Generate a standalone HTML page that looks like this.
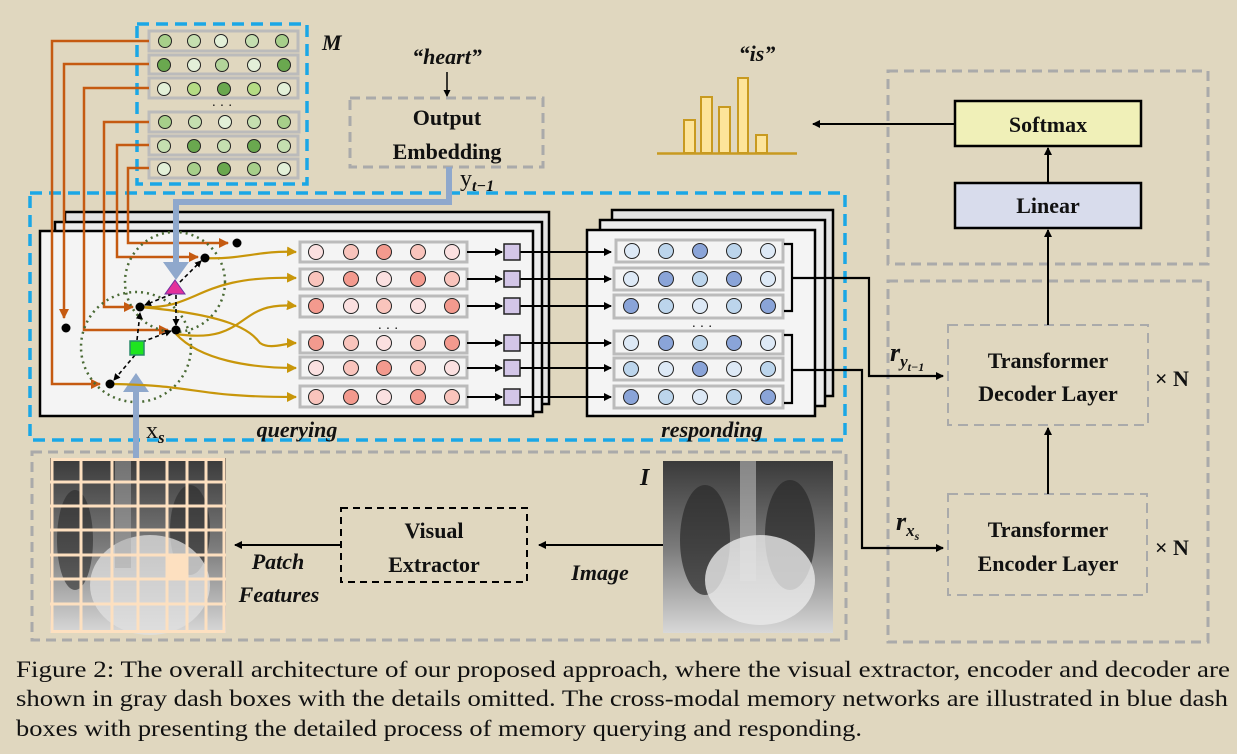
<!DOCTYPE html>
<html><head><meta charset="utf-8"><style>
html,body{margin:0;padding:0;background:#e0d7bf;}
svg{display:block}
.b{font-family:"Liberation Serif",serif;font-weight:bold;fill:#111}
.bi{font-family:"Liberation Serif",serif;font-weight:bold;font-style:italic;fill:#111}
</style></head><body>
<svg width="1237" height="754" viewBox="0 0 1237 754" xmlns="http://www.w3.org/2000/svg">
<defs>
<marker id="ab" markerWidth="8" markerHeight="8" refX="7" refY="4" orient="auto" markerUnits="userSpaceOnUse"><path d="M0,0L8,4L0,8z" fill="#000"/></marker>
<marker id="ao" markerWidth="10" markerHeight="10" refX="9" refY="5" orient="auto" markerUnits="userSpaceOnUse"><path d="M0,0L10,5L0,10z" fill="#c55a11"/></marker>
<marker id="ag" markerWidth="10" markerHeight="10" refX="9" refY="5" orient="auto" markerUnits="userSpaceOnUse"><path d="M0,0L10,5L0,10z" fill="#c8960a"/></marker>
<marker id="ad" markerWidth="7" markerHeight="7" refX="6" refY="3.5" orient="auto" markerUnits="userSpaceOnUse"><path d="M0,0L7,3.5L0,7z" fill="#000"/></marker>
<linearGradient id="xr" x1="0" y1="0" x2="0" y2="1"><stop offset="0" stop-color="#3a3a3a"/><stop offset="0.5" stop-color="#7a7a7a"/><stop offset="1" stop-color="#d8d8d8"/></linearGradient>
<radialGradient id="xr2" cx="0.55" cy="0.7" r="0.5"><stop offset="0" stop-color="#f2f2f2"/><stop offset="1" stop-color="#f2f2f2" stop-opacity="0"/></radialGradient>
</defs>

<!-- gray dash boxes -->
<g fill="none" stroke="#aaa" stroke-width="3" stroke-dasharray="10,6">
<rect x="350" y="98" width="193" height="69"/>
<rect x="32" y="452" width="814" height="188"/>
<rect x="888" y="71" width="320" height="193"/>
<rect x="888" y="281" width="320" height="361"/>
<rect x="948" y="325" width="200" height="100" stroke-width="2"/>
<rect x="948" y="494" width="199" height="101" stroke-width="2"/>
</g>

<!-- blue dashed boxes -->
<g fill="none" stroke="#1aa7e6" stroke-width="3.5" stroke-dasharray="12,7">
<rect x="137" y="24" width="170" height="160"/>
<rect x="30" y="193" width="815" height="247"/>
</g>

<!-- M memory rows -->
<g stroke="#bbb" stroke-width="3" fill="#e0d7bf">
<rect x="149" y="31" width="149" height="20"/><rect x="149" y="55" width="149" height="19"/><rect x="149" y="78" width="149" height="20"/>
<rect x="149" y="112" width="150" height="20"/><rect x="149" y="136" width="149" height="19"/><rect x="149" y="159" width="149" height="19"/>
</g>
<g stroke="#222" stroke-width="1">
<circle cx="165" cy="41" r="6.5" fill="#a7cf8a"/><circle cx="194" cy="41" r="6.5" fill="#c5dfb0"/><circle cx="221" cy="41" r="6.5" fill="#e3f0d8"/><circle cx="252" cy="41" r="6.5" fill="#c5dfb0"/><circle cx="282" cy="41" r="6.5" fill="#a7cf8a"/>
<circle cx="164" cy="65" r="6.5" fill="#6aa84f"/><circle cx="194" cy="65" r="6.5" fill="#e3f0d8"/><circle cx="222" cy="65" r="6.5" fill="#b3d49a"/><circle cx="254" cy="65" r="6.5" fill="#e3f0d8"/><circle cx="284" cy="65" r="6.5" fill="#6aa84f"/>
<circle cx="164" cy="89" r="6.5" fill="#e3f0d8"/><circle cx="194" cy="89" r="6.5" fill="#b5dc84"/><circle cx="224" cy="89" r="6.5" fill="#6aa84f"/><circle cx="254" cy="89" r="6.5" fill="#b5dc84"/><circle cx="284" cy="89" r="6.5" fill="#e3f0d8"/>
<circle cx="165" cy="122" r="6.5" fill="#a7cf8a"/><circle cx="195" cy="122" r="6.5" fill="#c5dfb0"/><circle cx="225" cy="122" r="6.5" fill="#e3f0d8"/><circle cx="254" cy="122" r="6.5" fill="#c5dfb0"/><circle cx="284" cy="122" r="6.5" fill="#a7cf8a"/>
<circle cx="164" cy="146" r="6.5" fill="#c5dfb0"/><circle cx="194" cy="146" r="6.5" fill="#6aa84f"/><circle cx="224" cy="146" r="6.5" fill="#c5dfb0"/><circle cx="254" cy="146" r="6.5" fill="#6aa84f"/><circle cx="284" cy="146" r="6.5" fill="#c5dfb0"/>
<circle cx="164" cy="169" r="6.5" fill="#e3f0d8"/><circle cx="194" cy="169" r="6.5" fill="#a7cf8a"/><circle cx="224" cy="169" r="6.5" fill="#6aa84f"/><circle cx="254" cy="169" r="6.5" fill="#a7cf8a"/><circle cx="284" cy="169" r="6.5" fill="#e3f0d8"/>
</g>
<text x="222" y="110" font-family="Liberation Serif" font-size="14" text-anchor="middle" fill="#111">· · ·</text>
<text x="322" y="50" class="bi" font-size="22">M</text>

<!-- query stacked boxes -->
<rect x="65" y="212" width="484" height="192" fill="#e3e3e3" stroke="#000" stroke-width="2.5"/>
<rect x="55" y="222" width="487" height="190" fill="#ececec" stroke="#000" stroke-width="2.5"/>
<rect x="40" y="231" width="493" height="185" fill="#f4f4f4" stroke="#000" stroke-width="2.5"/>
<!-- responding stacked boxes -->
<rect x="612" y="210" width="221" height="186" fill="#e3e3e3" stroke="#000" stroke-width="2.5"/>
<rect x="600" y="220" width="225" height="186" fill="#ececec" stroke="#000" stroke-width="2.5"/>
<rect x="587" y="230" width="228" height="186" fill="#f4f4f4" stroke="#000" stroke-width="2.5"/>

<!-- orange lines -->
<g fill="none" stroke="#c55a11" stroke-width="2.5">
<path d="M149,41H52V384H100" marker-end="url(#ao)"/>
<path d="M149,64H64V318" marker-end="url(#ao)"/>
<path d="M149,88H84V330H168" marker-end="url(#ao)"/>
<path d="M149,122H104V307H133" marker-end="url(#ao)"/>
<path d="M149,145H117V257H198" marker-end="url(#ao)"/>
<path d="M149,168H128V243H228" marker-end="url(#ao)"/>
</g>

<!-- dotted circles -->
<g fill="none" stroke="#4a6a35" stroke-width="2.5" stroke-dasharray="2,4">
<circle cx="175" cy="282" r="50"/><circle cx="136" cy="347" r="55"/>
</g>

<!-- blue thick arrows -->
<path d="M449,167V202H176V262" fill="none" stroke="#8fa8cc" stroke-width="6"/>
<path d="M163,262H189L176,280z" fill="#8fa8cc"/>
<path d="M136,460V390" fill="none" stroke="#8fa8cc" stroke-width="6"/>
<path d="M123,392H149L136,373z" fill="#8fa8cc"/>

<!-- gold curves -->
<g fill="none" stroke="#c8960a" stroke-width="2.2">
<path d="M205,258C240,260 260,250 296,252" marker-end="url(#ag)"/>
<path d="M140,307C200,310 195,275 296,278" marker-end="url(#ag)"/>
<path d="M176,334C250,345 235,300 296,306" marker-end="url(#ag)"/>
<path d="M140,307C230,315 250,330 260,343C270,350 285,343 296,343" marker-end="url(#ag)"/>
<path d="M176,334C200,360 250,368 296,368" marker-end="url(#ag)"/>
<path d="M110,384C200,385 190,397 296,397" marker-end="url(#ag)"/>
</g>

<!-- black dashed arrows -->
<g fill="none" stroke="#000" stroke-width="1.6" stroke-dasharray="4,3">
<path d="M175,287L201,261" marker-end="url(#ad)"/>
<path d="M172,294L145,305" marker-end="url(#ad)"/>
<path d="M176,295L176,325" marker-end="url(#ad)"/>
<path d="M137,340L140,313" marker-end="url(#ad)"/>
<path d="M142,342L171,331" marker-end="url(#ad)"/>
<path d="M135,355L114,380" marker-end="url(#ad)"/>
</g>
<g fill="#000">
<circle cx="237" cy="243" r="4.5"/><circle cx="205" cy="258" r="4.5"/><circle cx="140" cy="307" r="4.5"/><circle cx="176" cy="330" r="4.5"/><circle cx="110" cy="384" r="4.5"/><circle cx="66" cy="328" r="4.5"/>
</g>
<path d="M175,280L185,294H165z" fill="#e3309b" stroke="#7030a0" stroke-width="1"/>
<rect x="130" y="341" width="14" height="14" fill="#1fe51f" stroke="#2a8a6a" stroke-width="1.5"/>

<!-- query rows -->
<g stroke="#bbb" stroke-width="3" fill="#f4f4f4">
<rect x="300" y="242" width="167" height="20"/><rect x="300" y="269" width="167" height="20"/><rect x="300" y="296" width="167" height="21"/>
<rect x="300" y="332" width="167" height="21"/><rect x="300" y="357" width="167" height="21"/><rect x="300" y="386" width="167" height="21"/>
</g>
<g stroke="#222" stroke-width="1">
<circle cx="316" cy="252" r="7.5" fill="#fbe0e0"/><circle cx="351" cy="252" r="7.5" fill="#f9c4bc"/><circle cx="384" cy="252" r="7.5" fill="#f39a8e"/><circle cx="418" cy="252" r="7.5" fill="#f9c4bc"/><circle cx="452" cy="252" r="7.5" fill="#fbe0e0"/>
<circle cx="316" cy="279" r="7.5" fill="#f9c4bc"/><circle cx="351" cy="279" r="7.5" fill="#f39a8e"/><circle cx="384" cy="279" r="7.5" fill="#fbe0e0"/><circle cx="418" cy="279" r="7.5" fill="#f39a8e"/><circle cx="452" cy="279" r="7.5" fill="#f9c4bc"/>
<circle cx="316" cy="306" r="7.5" fill="#f39a8e"/><circle cx="351" cy="306" r="7.5" fill="#fbe0e0"/><circle cx="384" cy="306" r="7.5" fill="#f9c4bc"/><circle cx="418" cy="306" r="7.5" fill="#fbe0e0"/><circle cx="452" cy="306" r="7.5" fill="#f39a8e"/>
<circle cx="316" cy="343" r="7.5" fill="#f39a8e"/><circle cx="351" cy="343" r="7.5" fill="#f9c4bc"/><circle cx="384" cy="343" r="7.5" fill="#fbe0e0"/><circle cx="418" cy="343" r="7.5" fill="#f9c4bc"/><circle cx="452" cy="343" r="7.5" fill="#f39a8e"/>
<circle cx="316" cy="368" r="7.5" fill="#fbe0e0"/><circle cx="351" cy="368" r="7.5" fill="#f9c4bc"/><circle cx="384" cy="368" r="7.5" fill="#f39a8e"/><circle cx="418" cy="368" r="7.5" fill="#f9c4bc"/><circle cx="452" cy="368" r="7.5" fill="#fbe0e0"/>
<circle cx="316" cy="397" r="7.5" fill="#f9c4bc"/><circle cx="351" cy="397" r="7.5" fill="#f39a8e"/><circle cx="384" cy="397" r="7.5" fill="#fbe0e0"/><circle cx="418" cy="397" r="7.5" fill="#f39a8e"/><circle cx="452" cy="397" r="7.5" fill="#f9c4bc"/>
</g>
<text x="388" y="333" font-family="Liberation Serif" font-size="14" text-anchor="middle" fill="#111">· · ·</text>

<!-- arrows to squares and squares -->
<g stroke="#000" stroke-width="2" fill="none">
<path d="M467,252H502" marker-end="url(#ab)"/><path d="M467,279H502" marker-end="url(#ab)"/><path d="M467,306H502" marker-end="url(#ab)"/>
<path d="M467,343H502" marker-end="url(#ab)"/><path d="M467,368H502" marker-end="url(#ab)"/><path d="M467,397H502" marker-end="url(#ab)"/>
<path d="M520,252H611" marker-end="url(#ab)"/><path d="M520,279H611" marker-end="url(#ab)"/><path d="M520,306H611" marker-end="url(#ab)"/>
<path d="M520,343H611" marker-end="url(#ab)"/><path d="M520,368H611" marker-end="url(#ab)"/><path d="M520,397H611" marker-end="url(#ab)"/>
</g>
<g fill="#d3c6e8" stroke="#222" stroke-width="1.5">
<rect x="504" y="244" width="16" height="16"/><rect x="504" y="271" width="16" height="16"/><rect x="504" y="298" width="16" height="16"/>
<rect x="504" y="335" width="16" height="16"/><rect x="504" y="360" width="16" height="16"/><rect x="504" y="389" width="16" height="16"/>
</g>

<!-- responding rows -->
<g stroke="#bbb" stroke-width="3" fill="#f4f4f4">
<rect x="616" y="240" width="167" height="22"/><rect x="614" y="268" width="169" height="22"/><rect x="614" y="295" width="169" height="23"/>
<rect x="614" y="331" width="169" height="23"/><rect x="614" y="358" width="169" height="22"/><rect x="614" y="386" width="169" height="22"/>
</g>
<g stroke="#222" stroke-width="1">
<circle cx="632" cy="251" r="7.5" fill="#dde9f6"/><circle cx="666" cy="251" r="7.5" fill="#bcd5ec"/><circle cx="700" cy="251" r="7.5" fill="#8aa4d8"/><circle cx="734" cy="251" r="7.5" fill="#bcd5ec"/><circle cx="768" cy="251" r="7.5" fill="#dde9f6"/>
<circle cx="631" cy="279" r="7.5" fill="#dde9f6"/><circle cx="666" cy="279" r="7.5" fill="#8aa4d8"/><circle cx="700" cy="279" r="7.5" fill="#bcd5ec"/><circle cx="734" cy="279" r="7.5" fill="#8aa4d8"/><circle cx="768" cy="279" r="7.5" fill="#dde9f6"/>
<circle cx="631" cy="306" r="7.5" fill="#8aa4d8"/><circle cx="666" cy="306" r="7.5" fill="#bcd5ec"/><circle cx="700" cy="306" r="7.5" fill="#dde9f6"/><circle cx="734" cy="306" r="7.5" fill="#bcd5ec"/><circle cx="768" cy="306" r="7.5" fill="#8aa4d8"/>
<circle cx="631" cy="343" r="7.5" fill="#dde9f6"/><circle cx="666" cy="343" r="7.5" fill="#8aa4d8"/><circle cx="700" cy="343" r="7.5" fill="#bcd5ec"/><circle cx="734" cy="343" r="7.5" fill="#8aa4d8"/><circle cx="768" cy="343" r="7.5" fill="#dde9f6"/>
<circle cx="631" cy="369" r="7.5" fill="#bcd5ec"/><circle cx="666" cy="369" r="7.5" fill="#dde9f6"/><circle cx="700" cy="369" r="7.5" fill="#8aa4d8"/><circle cx="734" cy="369" r="7.5" fill="#dde9f6"/><circle cx="768" cy="369" r="7.5" fill="#bcd5ec"/>
<circle cx="631" cy="397" r="7.5" fill="#8aa4d8"/><circle cx="666" cy="397" r="7.5" fill="#bcd5ec"/><circle cx="700" cy="397" r="7.5" fill="#dde9f6"/><circle cx="734" cy="397" r="7.5" fill="#bcd5ec"/><circle cx="768" cy="397" r="7.5" fill="#8aa4d8"/>
</g>
<text x="702" y="331" font-family="Liberation Serif" font-size="14" text-anchor="middle" fill="#111">· · ·</text>
<g fill="none" stroke="#000" stroke-width="2.2">
<path d="M784,244H792V311H784"/><path d="M784,335H792V403H784"/>
<path d="M792,278H869V376H943" marker-end="url(#ab)"/>
<path d="M792,370H862V548H943" marker-end="url(#ab)"/>
</g>

<!-- labels in memory area -->
<text x="146" y="438" font-family="Liberation Serif" font-size="24" fill="#111">x<tspan font-size="17" font-weight="bold" font-style="italic" dy="5">s</tspan></text>
<text x="297" y="437" class="bi" font-size="22" text-anchor="middle">querying</text>
<text x="712" y="437" class="bi" font-size="22" text-anchor="middle">responding</text>

<!-- output embedding -->
<text x="447" y="64" class="bi" font-size="22" text-anchor="middle">“heart”</text>
<path d="M447,72V96" stroke="#000" stroke-width="1.5" marker-end="url(#ad)"/>
<text x="447" y="125" class="b" font-size="22" text-anchor="middle">Output</text>
<text x="447" y="159" class="b" font-size="22" text-anchor="middle">Embedding</text>
<text x="460" y="186" font-family="Liberation Serif" font-size="24" fill="#111">y<tspan font-size="16" font-weight="bold" font-style="italic" dy="5">t−1</tspan></text>

<!-- histogram -->
<text x="757" y="61" class="bi" font-size="22" text-anchor="middle">“is”</text>
<g fill="#fde49a" stroke="#c89a20" stroke-width="2">
<rect x="684" y="120" width="11" height="33"/><rect x="701" y="97" width="11" height="56"/><rect x="719" y="107" width="11" height="46"/><rect x="738" y="78" width="10" height="75"/><rect x="756" y="135" width="11" height="18"/>
</g>
<path d="M657,153.5H797" stroke="#c89a20" stroke-width="2.5"/>
<path d="M955,124H813" stroke="#000" stroke-width="2" marker-end="url(#ab)"/>

<!-- softmax/linear -->
<rect x="955" y="101" width="186" height="45" fill="#f0f0b8" stroke="#000" stroke-width="2.5"/>
<text x="1048" y="132" class="b" font-size="22" text-anchor="middle">Softmax</text>
<rect x="955" y="183" width="186" height="45" fill="#d8dcec" stroke="#000" stroke-width="2.5"/>
<text x="1048" y="213" class="b" font-size="22" text-anchor="middle">Linear</text>
<g stroke="#000" stroke-width="2" fill="none">
<path d="M1048,183V148" marker-end="url(#ab)"/>
<path d="M1048,325V230" marker-end="url(#ab)"/>
<path d="M1048,494V428" marker-end="url(#ab)"/>
</g>
<text x="1048" y="368" class="b" font-size="22" text-anchor="middle">Transformer</text>
<text x="1048" y="401" class="b" font-size="22" text-anchor="middle">Decoder Layer</text>
<text x="1048" y="537" class="b" font-size="22" text-anchor="middle">Transformer</text>
<text x="1048" y="571" class="b" font-size="22" text-anchor="middle">Encoder Layer</text>
<text x="1155" y="386" class="b" font-size="22">× N</text>
<text x="1155" y="555" class="b" font-size="22">× N</text>
<text x="890" y="361" class="bi" font-size="26">r<tspan font-size="17" dy="6">y</tspan><tspan font-size="12" dy="4">t−1</tspan></text>
<text x="896" y="530" class="bi" font-size="26">r<tspan font-size="17" dy="6">x</tspan><tspan font-size="12" dy="4">s</tspan></text>

<!-- xray image -->
<g>
<rect x="663" y="461" width="170" height="172" fill="url(#xr)"/>
<ellipse cx="705" cy="540" rx="25" ry="55" fill="#2a2a2a" opacity="0.7"/>
<ellipse cx="790" cy="535" rx="25" ry="55" fill="#2a2a2a" opacity="0.7"/>
<rect x="740" y="461" width="16" height="120" fill="#bbb" opacity="0.6"/>
<ellipse cx="760" cy="580" rx="55" ry="45" fill="#eaeaea" opacity="0.8"/>
</g>
<text x="640" y="485" class="bi" font-size="24">I</text>
<path d="M663,545H539" stroke="#000" stroke-width="2" marker-end="url(#ab)"/>
<text x="600" y="580" class="bi" font-size="22" text-anchor="middle">Image</text>
<rect x="341" y="508" width="186" height="74" fill="none" stroke="#000" stroke-width="2" stroke-dasharray="7,5"/>
<text x="434" y="538" class="b" font-size="22" text-anchor="middle">Visual</text>
<text x="434" y="572" class="b" font-size="22" text-anchor="middle">Extractor</text>
<path d="M341,545H235" stroke="#000" stroke-width="2" marker-end="url(#ab)"/>
<text x="278" y="569" class="bi" font-size="22" text-anchor="middle">Patch</text>
<text x="279" y="602" class="bi" font-size="22" text-anchor="middle">Features</text>

<!-- patch grid -->
<g>
<rect x="50" y="458" width="176" height="175" fill="url(#xr)"/>
<ellipse cx="75" cy="540" rx="18" ry="50" fill="#2a2a2a" opacity="0.6"/>
<ellipse cx="190" cy="530" rx="20" ry="45" fill="#2a2a2a" opacity="0.6"/>
<ellipse cx="150" cy="585" rx="60" ry="50" fill="#e0e0e0" opacity="0.75"/>
<rect x="115" y="458" width="16" height="110" fill="#aaa" opacity="0.5"/>
<rect x="167" y="556" width="20" height="22" fill="#fde0c0"/>
<g stroke="#fde0c0" stroke-width="3" fill="none">
<rect x="52" y="459.5" width="172" height="172"/>
<path d="M70,458V633M88,458V633M106,458V633M125,458V633M143,458V633M160,458V633M178,458V633M196,458V633M212,458V633" stroke-width="0"/>
<path d="M81,458V633M99,458V633M118,458V633M136,458V633M155,458V633M173,458V633M191,458V633M209,458V633" stroke-width="0"/>
<path d="M68,458V633M86,458V633M104,458V633M121,458V633M139,458V633M157,458V633M175,458V633M193,458V633M211,458V633" stroke-width="0"/>
</g>
<g stroke="#fde0c0" stroke-width="3">
<path d="M82,458V633M100,458V633M119,458V633M137,458V633M155,458V633M173,458V633M191,458V633M209,458V633" stroke-width="0"/>
<path d="M81,458V633M112,458V633M138,458V633M167,458V633M187,458V633M206,458V633"/>
<path d="M50,482H226M50,506H226M50,530H226M50,555H226M50,579H226M50,604H226"/>
</g>
</g>

<!-- caption -->
<g font-family="Liberation Serif" font-size="23" fill="#111">
<text x="16" y="677" textLength="1214" lengthAdjust="spacingAndGlyphs">Figure 2: The overall architecture of our proposed approach, where the visual extractor, encoder and decoder are</text>
<text x="16" y="706" textLength="1212" lengthAdjust="spacingAndGlyphs">shown in gray dash boxes with the details omitted. The cross-modal memory networks are illustrated in blue dash</text>
<text x="16" y="736" textLength="846" lengthAdjust="spacingAndGlyphs">boxes with presenting the detailed process of memory querying and responding.</text>
</g>
</svg>
</body></html>
